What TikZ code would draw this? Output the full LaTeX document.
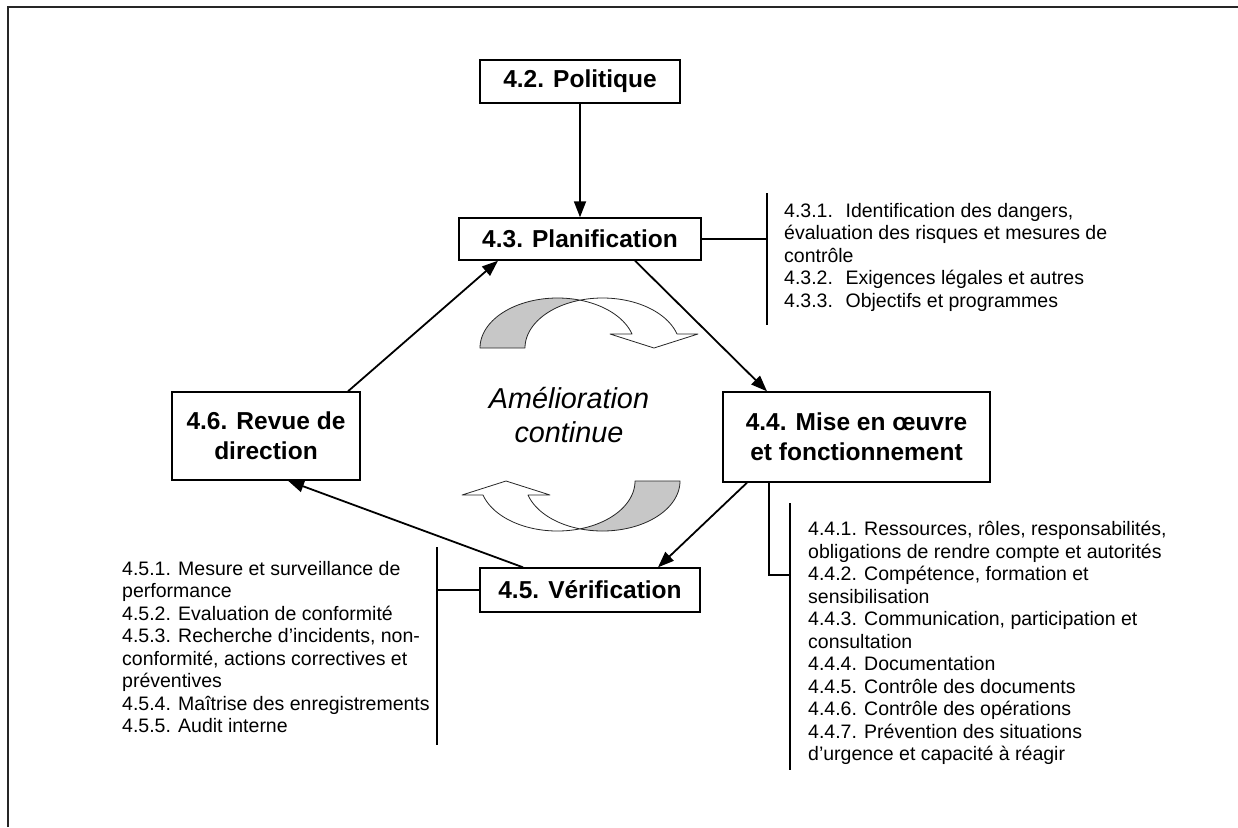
\documentclass[tikz,border=0pt]{standalone}
\usepackage{fontspec}
\setmainfont{Liberation Sans}
\usetikzlibrary{arrows.meta}

% Curved "continuous improvement" arrow: a ribbon between two equal
% ellipses shifted sideways; the back face is shaded, the front face
% ends in a downward arrow head.
\newcommand{\turnarrow}{%
  \filldraw[band, fill=black!22]
    plot[domain=180:286.86] ({557.55+77.55*cos(\x)},{348+50*sin(\x)})
    -- plot[domain=253.14:180] ({602.55+77.55*cos(\x)},{348+50*sin(\x)})
    -- cycle;
  \filldraw[band, fill=white]
    plot[domain=253.14:343.74] ({602.55+77.55*cos(\x)},{348+50*sin(\x)})
    -- (698,334) -- (654,348) -- (610,334)
    -- plot[domain=343.74:286.86] ({557.55+77.55*cos(\x)},{348+50*sin(\x)})
    -- cycle;}

\begin{document}
\begin{tikzpicture}[x=1pt, y=-1pt,
  box/.style={draw, line width=1.4pt, inner sep=0pt, align=center,
              font=\fontsize{24.5}{30}\selectfont\bfseries},
  flow/.style={line width=1.8pt, -{Triangle[length=16pt,width=12pt]}},
  brace/.style={line width=1.1pt},
  list/.style={anchor=north west, inner sep=0pt, align=left,
               font=\fontsize{19.5}{22.5}\selectfont},
  band/.style={line width=0.8pt, draw=black!85, line join=round, samples=60, smooth}]

\useasboundingbox (0,0) rectangle (1238,827);

% page frame
\draw[line width=2.4pt, black!85] (8,827) -- (8,7) -- (1238,7);

% process boxes
\node[box, minimum width=200pt, minimum height=43pt] (pol) at (580,81.5) {4.2. Politique};
\node[box, minimum width=242pt, minimum height=42pt] (pla) at (580,239) {4.3. Planification};
\node[box, minimum width=188pt, minimum height=88pt] (rev) at (266,436) {4.6. Revue de\\direction};
\node[box, minimum width=267pt, minimum height=90pt] (mis) at (856.5,437) {4.4. Mise en œuvre\\et fonctionnement};
\node[box, minimum width=220pt, minimum height=44pt] (ver) at (590,590) {4.5. Vérification};

% centre label
\node[font=\fontsize{28.8}{34}\selectfont\itshape, align=center, inner sep=0pt]
  (ame) at (569,415) {Amélioration\\continue};

% improvement arrows
\turnarrow
\begin{scope}[rotate around={180:(580,414.5)}]
  \turnarrow
\end{scope}

% cycle connectors
\draw[flow] (pol.south) -- (pla.north);
\draw[flow] ([xshift=55pt]pla.south) -- ([xshift=-89.5pt]mis.north);
\draw[flow] ([xshift=-109.5pt]mis.south) -- ([xshift=68pt]ver.north);
\draw[flow] ([xshift=-67pt]ver.north) -- ([xshift=22pt]rev.south);
\draw[flow] ([xshift=82pt]rev.north) -- ([xshift=-82pt]pla.south);

% sub-clause brackets
\coordinate (t43) at (767,193);
\coordinate (b43) at (767,325);
\draw[brace] (t43) -- (b43);
\draw[brace] (pla.east) -- (pla.east -| t43);

\coordinate (t44) at (790,503);
\coordinate (b44) at (790,770);
\coordinate (j44) at (790,575);
\draw[brace] (t44) -- (b44);
\draw[brace] ([xshift=-87.5pt]mis.south) |- (j44);

\coordinate (t45) at (437,547);
\coordinate (b45) at (437,745);
\draw[brace] (t45) -- (b45);
\draw[brace] (ver.west) -- (ver.west -| t45);

% sub-clause lists
\node[list] (l43) at (784,203) {4.3.1.~ Identification des dangers,\\
évaluation des risques et mesures de\\
contrôle\\
4.3.2.~ Exigences légales et autres\\
4.3.3.~ Objectifs et programmes};

\node[list] (l44) at (808,521) {4.4.1. Ressources, rôles, responsabilités,\\
obligations de rendre compte et autorités\\
4.4.2. Compétence, formation et\\
sensibilisation\\
4.4.3. Communication, participation et\\
consultation\\
4.4.4. Documentation\\
4.4.5. Contrôle des documents\\
4.4.6. Contrôle des opérations\\
4.4.7. Prévention des situations\\
d’urgence et capacité à réagir};

\node[list] (l45) at (122,561) {4.5.1. Mesure et surveillance de\\
performance\\
4.5.2. Evaluation de conformité\\
4.5.3. Recherche d’incidents, non-\\
conformité, actions correctives et\\
préventives\\
4.5.4. Maîtrise des enregistrements\\
4.5.5. Audit interne};

\end{tikzpicture}
\end{document}
